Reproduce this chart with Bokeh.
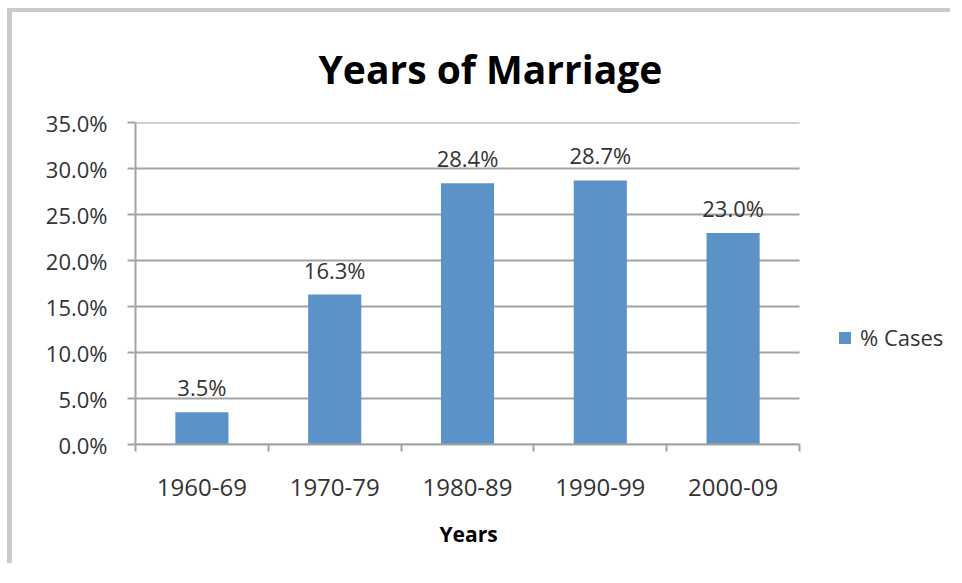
from bokeh.plotting import figure
from bokeh.models import (ColumnDataSource, FixedTicker, PrintfTickFormatter, Range1d,
                          Legend, LegendItem, Title)
from bokeh.core.properties import value
from bokeh.embed import file_html
from bokeh.resources import INLINE

years = ["1960-69", "1970-79", "1980-89", "1990-99", "2000-09"]
pct_cases = [3.5, 16.3, 28.4, 28.7, 23.0]
y_ticks = [0, 5, 10, 15, 20, 25, 30, 35]
series_name = "% Cases"
x_title = "Years"

BAR = "#5b93c9"
GRID = "#a3a3a3"
TXT = "#333333"
FONT = "Open Sans"

n = len(years)
xs = [i + 0.5 for i in range(n)]
labels = [f"{v:.1f}%" for v in pct_cases]
src = ColumnDataSource(dict(x=xs, top=pct_cases, label=labels))

W, H = 943, 555
LEFT, TOP, PLOT_W, PLOT_H = 123, 110, 664, 323
frame_w = W - LEFT
x_end = n * frame_w / PLOT_W   # frame also holds the legend area on the right

p = figure(width=W, height=H, output_backend="svg", toolbar_location=None,
           x_range=Range1d(0, x_end), y_range=Range1d(0, y_ticks[-1]),
           min_border_left=LEFT, min_border_right=0, min_border_top=TOP,
           min_border_bottom=H - TOP - PLOT_H)
p.styles = {"margin-left": "7px", "margin-top": "8px",
            "border-left": "5px solid #cacaca", "border-top": "4px solid #cacaca"}
p.outline_line_color = None
p.background_fill_color = "white"
p.border_fill_color = "white"

# horizontal gridlines limited to the category area
p.segment(x0=0, x1=n, y0=y_ticks, y1=y_ticks, line_color=GRID, line_width=2)

r = p.vbar(x="x", top="top", width=0.4, source=src, fill_color=BAR, line_color=None)
p.text(x="x", y="top", text="label", source=src, text_align="center",
       text_baseline="bottom", y_offset=-10, text_font=value(FONT),
       text_font_size="22px", text_color=TXT)

# title
p.title.text = "Years of Marriage"
p.title.align = "left"
p.title.offset = 183
p.title.standoff = 55
p.title.text_line_height = 1.0
p.title.text_font = FONT
p.title.text_font_style = "bold"
p.title.text_font_size = "39px"
p.title.text_color = "black"

# y axis
p.yaxis.ticker = FixedTicker(ticks=y_ticks)
p.yaxis.formatter = PrintfTickFormatter(format="%.1f%%")
p.yaxis.major_tick_out = 8
p.yaxis.major_tick_in = 0
p.yaxis.minor_tick_line_color = None
p.yaxis.axis_line_color = GRID
p.yaxis.axis_line_width = 2
p.yaxis.major_tick_line_color = GRID
p.yaxis.major_tick_line_width = 2
p.yaxis.major_label_standoff = 20
p.yaxis.major_label_text_font = FONT
p.yaxis.major_label_text_font_size = "22px"
p.yaxis.major_label_text_color = TXT

# x axis
p.xaxis.bounds = (0, n)
p.xaxis.ticker = FixedTicker(ticks=xs, minor_ticks=list(range(n + 1)))
p.xaxis.major_label_overrides = {x: y for x, y in zip(xs, years)}
p.xaxis.major_tick_out = 0
p.xaxis.major_tick_in = 0
p.xaxis.minor_tick_out = 7
p.xaxis.minor_tick_in = 0
p.xaxis.minor_tick_line_color = GRID
p.xaxis.minor_tick_line_width = 2
p.xaxis.axis_line_color = GRID
p.xaxis.axis_line_width = 2
p.xaxis.major_label_standoff = 27
p.xaxis.major_label_text_font = FONT
p.xaxis.major_label_text_font_size = "24px"
p.xaxis.major_label_text_color = TXT

# x-axis title, centred under the category area
p.add_layout(Title(text=x_title, align="left", offset=304, standoff=39,
                   text_font=FONT, text_font_style="bold", text_font_size="21px",
                   text_color="black"), "below")

p.xgrid.grid_line_color = None
p.ygrid.grid_line_color = None

legend = Legend(items=[LegendItem(label=series_name, renderers=[r])],
                location=(702, 92), padding=0, margin=0, spacing=0,
                glyph_width=15, glyph_height=15, label_standoff=8,
                label_text_font=FONT, label_text_font_size="22px",
                label_text_color=TXT, border_line_color=None,
                background_fill_alpha=0)
p.add_layout(legend, "center")

open("out.html", "w").write(file_html(p, INLINE))
